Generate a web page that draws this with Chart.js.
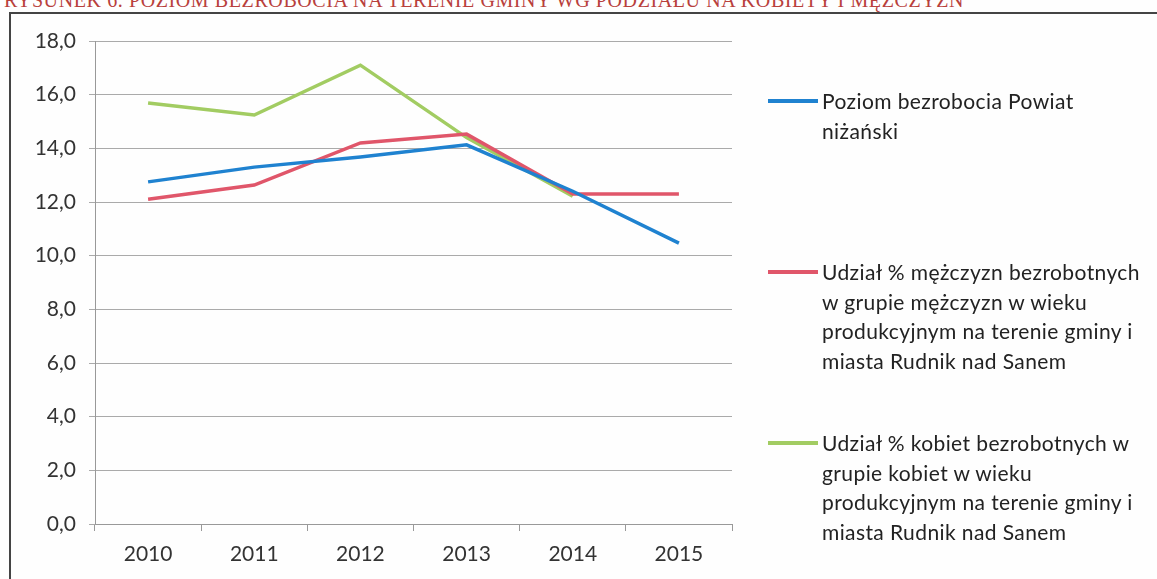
<!DOCTYPE html>
<html lang="pl">
<head>
<meta charset="UTF-8">
<title>Poziom bezrobocia</title>
<script src="https://cdn.jsdelivr.net/npm/chart.js"></script>
<style>
  body { margin: 0; background: #fefefe; overflow: hidden; }
  #wrap { position: relative; width: 1157px; height: 579px; }
  #title { position: absolute; left: 4px; top: -11px; font-family: "Liberation Serif", serif; font-size: 20px; color: #b8403c; letter-spacing: 0.6px; white-space: nowrap; }
  #frame { position: absolute; left: 9px; top: 12px; width: 1160px; height: 600px; border: 2px solid #444; border-right: none; border-bottom: none; }
  canvas { position: absolute; left: 0; top: 0; }
  #legend { position: absolute; left: 768px; top: 0; font-family: Lato, "Open Sans", sans-serif; font-size: 21px; letter-spacing: 0.4px; color: #222; line-height: 29.5px; }
  .item { position: absolute; left: 0; width: 390px; white-space: nowrap; }
  .item span.sw { position: absolute; left: 0; top: 13px; width: 50px; height: 4px; }
  .item div { margin-left: 54px; }
</style>
</head>
<body>
<div id="wrap">
  <div id="title">RYSUNEK 6. POZIOM BEZROBOCIA NA TERENIE GMINY WG PODZIAŁU NA KOBIETY I MĘŻCZYZN</div>
  <div id="frame"></div>
  <canvas id="chart" width="1157" height="579"></canvas>
  <div id="legend"></div>
</div>
<script>
// dane
const years = ['2010', '2011', '2012', '2013', '2014', '2015'];
const powiat = [12.75, 13.3, 13.68, 14.13, 12.4, 10.47];
const mezczyzni = [12.1, 12.63, 14.2, 14.53, 12.3, 12.3];
const kobiety = [15.69, 15.24, 17.1, 14.4, 12.22, null];

const labelsLegend = [
    ['Poziom bezrobocia Powiat', 'niżański'],
    ['Udział % mężczyzn bezrobotnych', 'w grupie mężczyzn w wieku', 'produkcyjnym na terenie gminy i', 'miasta Rudnik nad Sanem'],
    ['Udział % kobiet bezrobotnych w', 'grupie kobiet w wieku', 'produkcyjnym na terenie gminy i', 'miasta Rudnik nad Sanem']
];
const colors = ['#1f82d0', '#e0566a', '#a2cc62'];
const legendTops = [86, 257, 428];

const ctx = document.getElementById('chart').getContext('2d');
const chart = new Chart(ctx, {
    type: 'line',
    data: {
        labels: years,
        datasets: [powiat, mezczyzni, kobiety].map((d, i) => ({
            label: labelsLegend[i].join(' '),
            data: d,
            borderColor: colors[i],
            backgroundColor: colors[i],
            borderWidth: 3.5,
            pointRadius: 0,
            tension: 0,
            spanGaps: false
        }))
    },
    options: {
        responsive: false,
        animation: false,
        layout: { padding: { left: 0, right: 425, top: 41, bottom: 0 } },
        plugins: { legend: { display: false }, tooltip: { enabled: false } },
        scales: {
            x: {
                offset: true,
                grid: { offset: true, drawOnChartArea: false, tickLength: 7, color: '#999' },
                border: { color: '#999' },
                ticks: { font: { family: 'Lato, "Open Sans", sans-serif', size: 21 }, color: '#333', padding: 11 },
                afterFit: s => { s.height = 55; }
            },
            y: {
                min: 0,
                max: 18,
                ticks: {
                    stepSize: 2,
                    font: { family: 'Lato, "Open Sans", sans-serif', size: 21 },
                    color: '#333',
                    padding: 13,
                    callback: v => v.toFixed(1).replace('.', ',')
                },
                grid: { color: '#aaa', tickLength: 6 },
                border: { color: '#999' },
                afterFit: s => { s.width = 95; }
            }
        }
    }
});

// legenda w HTML, bo etykiety są wieloliniowe
const legend = document.getElementById('legend');
labelsLegend.forEach((lines, i) => {
    const item = document.createElement('div');
    item.className = 'item';
    item.style.top = legendTops[i] + 'px';
    item.innerHTML = '<span class="sw" style="background:' + colors[i] + '"></span><div>' + lines.join('<br>') + '</div>';
    legend.appendChild(item);
});
</script>
</body>
</html>
